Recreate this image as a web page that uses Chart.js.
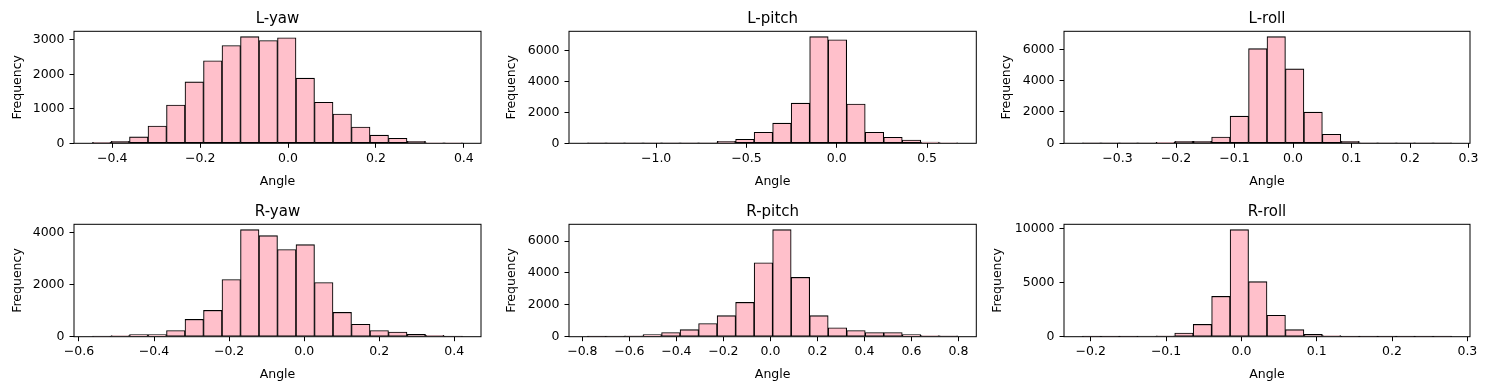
<!DOCTYPE html>
<html>
<head>
<meta charset="utf-8">
<script src="https://cdn.jsdelivr.net/npm/chart.js@4/dist/chart.umd.min.js"></script>
<style>
  html, body { margin: 0; padding: 0; background: #fff; }
  #fig { position: relative; width: 1489px; height: 389px; overflow: hidden; }
  #fig canvas { position: absolute; }
</style>
</head>
<body>
<div id="fig"></div>
<script>
// Titulos de cada panel
const titles = ['L-yaw', 'L-pitch', 'L-roll', 'R-yaw', 'R-pitch', 'R-roll'];

// Primer y ultimo borde de los 20 bins de cada histograma
const binLo = [-0.445, -1.38, -0.360, -0.564, -0.778, -0.211];
const binHi = [0.397, 0.67, 0.271, 0.422, 0.797, 0.279];

// Frecuencias (20 bins)
const lYaw   = [30, 60, 185, 500, 1110, 1780, 2395, 2835, 3095, 2980, 3060, 1890, 1190, 850, 470, 235, 145, 60, 15, 10];
const lPitch = [3, 2, 2, 3, 5, 8, 12, 130, 260, 715, 1300, 2600, 6900, 6700, 2540, 715, 390, 215, 85, 30];
const lRoll  = [2, 3, 5, 10, 60, 130, 130, 405, 1735, 6040, 6810, 4750, 1990, 580, 130, 10, 5, 3, 2, 1];
const rYaw   = [10, 45, 85, 85, 240, 665, 1010, 2200, 4115, 3885, 3350, 3540, 2085, 935, 475, 240, 180, 90, 50, 15];
const rPitch = [5, 10, 60, 140, 260, 440, 830, 1320, 2155, 4640, 6720, 3725, 1320, 560, 390, 260, 260, 140, 70, 55];
const rRoll  = [2, 3, 10, 40, 80, 340, 1140, 3730, 9900, 5090, 1975, 650, 215, 110, 5, 3, 2, 1, 1, 1];
const counts = [lYaw, lPitch, lRoll, rYaw, rPitch, rRoll];

// Marcas de los ejes
const xTicks = [
    [-0.4, -0.2, 0, 0.2, 0.4],
    [-1.0, -0.5, 0, 0.5],
    [-0.3, -0.2, -0.1, 0, 0.1, 0.2, 0.3],
    [-0.6, -0.4, -0.2, 0, 0.2, 0.4],
    [-0.8, -0.6, -0.4, -0.2, 0, 0.2, 0.4, 0.6, 0.8],
    [-0.2, -0.1, 0, 0.1, 0.2, 0.3]
];
const yTicks = [
    [0, 1000, 2000, 3000],
    [0, 2000, 4000, 6000],
    [0, 2000, 4000, 6000],
    [0, 2000, 4000],
    [0, 2000, 4000, 6000],
    [0, 5000, 10000]
];

// Distribucion en pagina (pixeles)
const cellX = [0, 495, 990], cellW = [495, 495, 499];
const cellY = [0, 195], cellH = [195, 194];
const plotL = [74, 569, 1064], plotR = [481, 976.3, 1470];
const plotT = [31.3, 224.3], plotB = [143.3, 336.7];
const ylabX = [17.3, 511.7, 1006.7, 17.3, 511.7, 997.7];

const FAMILY = "'DejaVu Sans', sans-serif";
const FS = 12.5, LH = FS * 1.2;
const TFS = 15, TLH = TFS * 1.2;
const XH = 46;

// Formato de etiquetas con signo menos tipografico
function fmtX(v) {
    return v.toFixed(1).replace('-', '\u2212');
}

// Marco completo alrededor del area del grafico
const marco = {
    id: 'marco',
    afterDatasetsDraw(chart) {
        const { ctx, chartArea: a } = chart;
        ctx.save();
        ctx.strokeStyle = '#000';
        ctx.lineWidth = 1;
        ctx.strokeRect(a.left, a.top, a.right - a.left, a.bottom - a.top);
        ctx.restore();
    }
};

const fig = document.getElementById('fig');

titles.forEach((titulo, k) => {
    const r = Math.floor(k / 3), c = k % 3;
    const cx0 = cellX[c], cy0 = cellY[r], w = cellW[c], h = cellH[r];

    const pl = ylabX[k] - cx0 - LH / 2;
    const yW = plotL[c] - cx0 - pl;
    const pr = cx0 + w - plotR[c];
    const pt = plotT[r] - 12.6 - cy0 - TLH / 2;
    const tPad = plotT[r] - cy0 - pt - TLH;
    const pb = cy0 + h - plotB[r] - XH;

    const lo = binLo[k], hi = binHi[k];
    const ancho = (hi - lo) / counts[k].length;
    const puntos = counts[k].map((n, i) => ({ x: lo + (i + 0.5) * ancho, y: n }));
    const margen = (hi - lo) * 0.05;
    const ymax = Math.max(...counts[k]) * 1.05;

    const cv = document.createElement('canvas');
    cv.width = w;
    cv.height = h;
    cv.style.left = cx0 + 'px';
    cv.style.top = cy0 + 'px';
    fig.appendChild(cv);

    new Chart(cv.getContext('2d'), {
        type: 'bar',
        data: {
            datasets: [{
                data: puntos,
                backgroundColor: '#ffc0cb',
                borderColor: '#000',
                borderWidth: 1.1,
                borderSkipped: false,
                barPercentage: 1,
                categoryPercentage: 1
            }]
        },
        options: {
            responsive: false,
            animation: false,
            layout: {
                padding: { left: pl, right: pr, top: pt, bottom: pb }
            },
            plugins: {
                legend: { display: false },
                tooltip: { enabled: false },
                title: {
                    display: true,
                    text: titulo,
                    fullSize: false,
                    color: '#000',
                    font: { family: FAMILY, size: TFS, weight: 'normal', lineHeight: 1.2 },
                    padding: { top: 0, bottom: tPad }
                }
            },
            scales: {
                x: {
                    type: 'linear',
                    min: lo - margen,
                    max: hi + margen,
                    offset: false,
                    afterBuildTicks: s => { s.ticks = xTicks[k].map(v => ({ value: v })); },
                    afterFit: s => { s.height = XH; },
                    grid: { offset: false, drawOnChartArea: false, drawTicks: true, tickLength: 4.5, color: '#000' },
                    border: { display: false },
                    ticks: {
                        color: '#000',
                        font: { family: FAMILY, size: FS },
                        padding: 3,
                        maxRotation: 0,
                        autoSkip: false,
                        callback: v => fmtX(v)
                    },
                    title: {
                        display: true,
                        text: 'Angle',
                        color: '#000',
                        font: { family: FAMILY, size: FS },
                        padding: 0
                    }
                },
                y: {
                    min: 0,
                    max: ymax,
                    afterBuildTicks: s => { s.ticks = yTicks[k].map(v => ({ value: v })); },
                    afterFit: s => { s.width = yW; },
                    grid: { drawOnChartArea: false, drawTicks: true, tickLength: 4.5, color: '#000' },
                    border: { display: false },
                    ticks: {
                        color: '#000',
                        font: { family: FAMILY, size: FS },
                        padding: 5,
                        autoSkip: false,
                        callback: v => String(v)
                    },
                    title: {
                        display: true,
                        text: 'Frequency',
                        color: '#000',
                        font: { family: FAMILY, size: FS },
                        padding: 0
                    }
                }
            }
        },
        plugins: [marco]
    });
});
</script>
</body>
</html>
